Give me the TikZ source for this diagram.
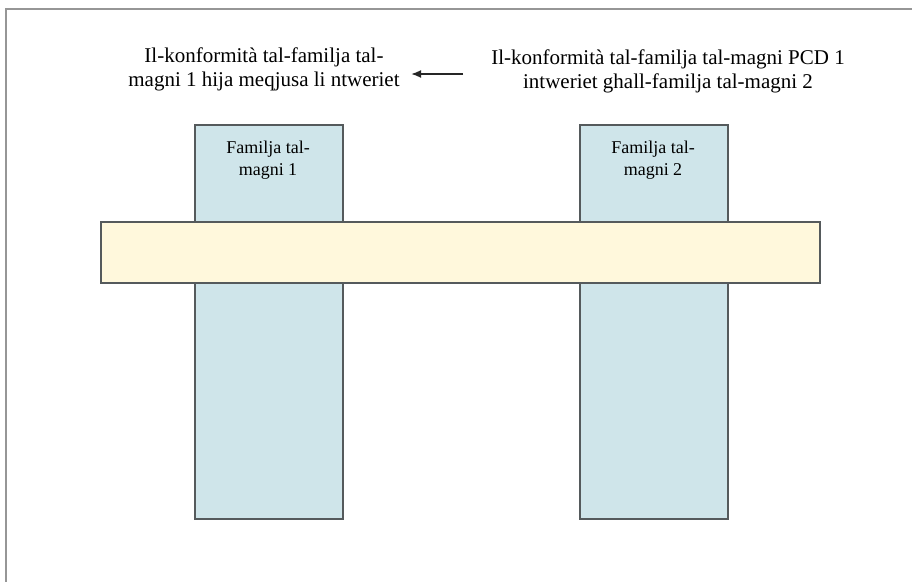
\documentclass[tikz,border=0pt]{standalone}
\usepackage{fontspec}
\setmainfont{Liberation Serif}
\usetikzlibrary{arrows.meta}
\definecolor{pillar}{RGB}{207,229,234}
\definecolor{bar}{RGB}{255,248,220}
\definecolor{edge}{RGB}{85,90,92}
\definecolor{frame}{RGB}{150,150,150}
\begin{document}
\begin{tikzpicture}[x=1pt,y=-1pt,
  pillarbox/.style={draw=edge,line width=1.6pt,fill=pillar},
  barbox/.style={draw=edge,line width=1.6pt,fill=bar},
  lbl/.style={font=\fontsize{21}{24}\selectfont,align=center,inner sep=0pt},
  boxlbl/.style={font=\fontsize{18}{22}\selectfont,align=center,inner sep=0pt}]
\useasboundingbox (0,0) rectangle (912,581);
\fill[white] (0,0) rectangle (912,581);
\draw[frame,line width=2pt] (6,600) -- (6,9) -- (920,9);
\node[pillarbox,minimum width=148pt,minimum height=394pt,anchor=north west,inner sep=0pt] (p1) at (194,124) {};
\node[pillarbox,minimum width=148pt,minimum height=394pt,anchor=north west,inner sep=0pt] (p2) at (579,124) {};
\node[barbox,minimum width=719pt,minimum height=61pt,anchor=north west,inner sep=0pt] (b) at (100,221) {};
\node[boxlbl,anchor=north] (t1) at (268,141) {Familja tal-\\magni 1};
\node[boxlbl,anchor=north] (t2) at (653,141) {Familja tal-\\magni 2};
\node[lbl] (l) at (264,69) {Il-konformità tal-familja tal-\\magni 1 hija meqjusa li ntweriet};
\node[lbl] (r) at (668,71) {Il-konformità tal-familja tal-magni PCD 1\\intweriet ghall-familja tal-magni 2};
\coordinate (as) at (463,74);
\coordinate (ae) at (411,74);
\draw[-{Latex[length=10pt,width=8pt]},line width=1.8pt,black!85] (as) -- (ae);
\end{tikzpicture}
\end{document}
